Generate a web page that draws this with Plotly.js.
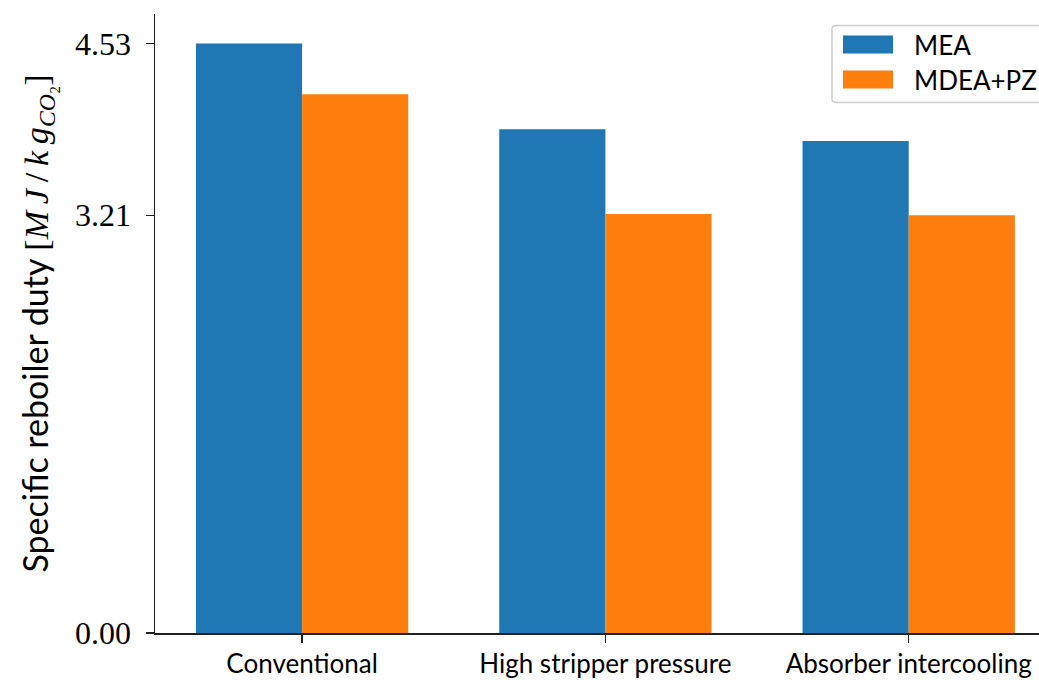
<!DOCTYPE html>
<html>
<head>
<meta charset="utf-8">
<script src="https://cdn.plot.ly/plotly-3.0.1.min.js"></script>
<style>
  html, body { margin: 0; padding: 0; background: #ffffff; overflow: hidden; }
  #chart { width: 1039px; height: 680px; }
</style>
</head>
<body>
<div id="chart"></div>
<script>
// Specific reboiler duty for each process configuration and solvent
const configurations = ['Conventional', 'High stripper pressure', 'Absorber intercooling'];
const seriesNames = ['MEA', 'MDEA+PZ'];
const meaDuty = [4.53, 3.87, 3.78];
const mdeaPzDuty = [4.14, 3.22, 3.21];
const yTickValues = [0.00, 3.21, 4.53];
const yTickLabels = ['0.00', '3.21', '4.53'];

const colors = ['#1f77b4', '#ff7f0e'];
const W = 1039, H = 680;
const margin = { l: 155, r: 0, t: 13.5, b: 46.7 };
const plotW = W - margin.l - margin.r;
const plotH = H - margin.t - margin.b;

// pixel -> paper helpers for the legend box
const px = x => (x - margin.l) / plotW;
const py = y => 1 - (y - margin.t) / plotH;

const xs = [0, 1, 2];

const traces = [meaDuty, mdeaPzDuty].map((vals, i) => ({
  type: 'bar',
  name: seriesNames[i],
  x: xs,
  y: vals,
  marker: { color: colors[i], line: { width: 0 } },
  showlegend: false,
  hoverinfo: 'x+y'
}));

const sansFont = 'Lato, "Open Sans", sans-serif';
const serifFont = '"Liberation Serif", "DejaVu Serif", serif';

// legend drawn as a framed box with colour swatches
const shapes = [
  {
    type: 'path', xref: 'paper', yref: 'paper',
    path: `M ${px(836)} ${py(25)} L ${px(1060)} ${py(25)} L ${px(1060)} ${py(102)} L ${px(836)} ${py(102)} Q ${px(832)} ${py(102)} ${px(832)} ${py(98)} L ${px(832)} ${py(29)} Q ${px(832)} ${py(25)} ${px(836)} ${py(25)} Z`,
    fillcolor: 'rgba(255,255,255,0.8)',
    line: { color: '#cccccc', width: 1.5 },
    layer: 'above'
  }
];
const annotations = [];
seriesNames.forEach((name, i) => {
  const top = 35 + i * 35;
  shapes.push({
    type: 'rect', xref: 'paper', yref: 'paper',
    x0: px(843), x1: px(893), y0: py(top), y1: py(top + 18),
    fillcolor: colors[i], line: { width: 0 }, layer: 'above'
  });
  annotations.push({
    xref: 'paper', yref: 'paper',
    x: px(912), y: py(top + 9.5),
    xanchor: 'left', yanchor: 'middle',
    text: name, showarrow: false,
    font: { family: sansFont, size: 26, color: '#000000' }
  });
});

// unit in math italics with thin spaces between the symbols
const thin = '\u2009';
const mathUnit = '<span style="font-family:\'Liberation Serif\',serif;font-size:34px">[<i>M' + thin + 'J</i>' + thin + '/' + thin +
  '<i>k' + thin + 'g</i><sub><i>CO</i>₂</sub>]</span>';

const layout = {
  width: W, height: H,
  margin: margin,
  paper_bgcolor: '#ffffff',
  plot_bgcolor: '#ffffff',
  barmode: 'group',
  bargap: 0.3,
  bargroupgap: 0,
  showlegend: false,
  xaxis: {
    range: [-0.485, 2.4296],
    tickvals: xs,
    ticktext: configurations,
    ticks: 'outside', ticklen: 8, tickwidth: 1.5, tickcolor: '#222222',
    showline: true, linecolor: '#222222', linewidth: 1.5,
    showgrid: false, zeroline: false,
    tickfont: { family: sansFont, size: 26, color: '#000000' },
    ticklabelstandoff: -1
  },
  yaxis: {
    range: [0, 4.7565],
    tickvals: yTickValues,
    ticktext: yTickLabels,
    ticks: 'outside', ticklen: 8, tickwidth: 1.5, tickcolor: '#222222',
    showline: true, linecolor: '#222222', linewidth: 1.5,
    showgrid: false, zeroline: false,
    tickfont: { family: serifFont, size: 32, color: '#000000' },
    ticklabelstandoff: 8,
    title: {
      text: 'Specific reboiler duty ' + mathUnit,
      font: { family: sansFont, size: 34, color: '#000000' },
      standoff: 16
    }
  },
  shapes: shapes,
  annotations: annotations
};

Plotly.newPlot('chart', traces, layout, { displayModeBar: false, staticPlot: true });
</script>
</body>
</html>
